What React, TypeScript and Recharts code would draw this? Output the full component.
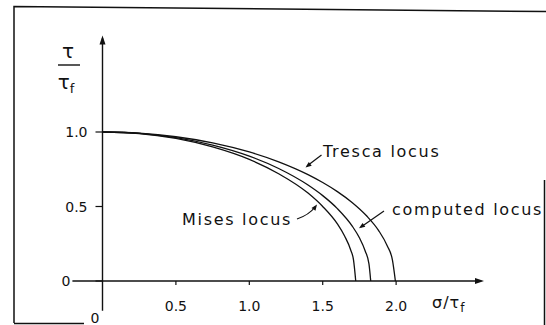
import React from 'react';
import { LineChart, Line, XAxis, YAxis, ReferenceLine, ReferenceDot } from 'recharts';

// Values (sigma / tau_f , tau / tau_f)
const misesSigma = [0, 0.25, 0.5, 0.75, 1.0, 1.2, 1.4, 1.5, 1.6, 1.65, 1.69, 1.71, 1.725];
const misesTau = [1.0, 0.99, 0.957, 0.9, 0.816, 0.72, 0.59, 0.5, 0.383, 0.3, 0.21, 0.14, 0];

const computedSigma = [0, 0.25, 0.5, 0.75, 1.0, 1.2, 1.4, 1.5, 1.6, 1.7, 1.75, 1.79, 1.815, 1.827];
const computedTau = [1.0, 0.991, 0.962, 0.912, 0.838, 0.755, 0.644, 0.573, 0.486, 0.37, 0.29, 0.2, 0.115, 0];

const trescaSigma = [0, 0.25, 0.5, 0.75, 1.0, 1.2, 1.4, 1.5, 1.6, 1.7, 1.8, 1.88, 1.94, 1.975, 1.995];
const trescaTau = [1.0, 0.992, 0.968, 0.927, 0.866, 0.8, 0.714, 0.661, 0.6, 0.527, 0.436, 0.34, 0.235, 0.14, 0];

const xTicks = [0.5, 1.0, 1.5, 2.0];
const yTicks = [0, 0.5, 1.0];

const toRows = (xs: number[], ys: number[]) => xs.map((s, i) => ({ s, t: ys[i] }));
const misesData = toRows(misesSigma, misesTau);
const computedData = toRows(computedSigma, computedTau);
const trescaData = toRows(trescaSigma, trescaTau);

const FONT = '"DejaVu Sans", sans-serif';
const INK = '#111';

const YTick = (props: any) => {
  const { x, y, payload } = props;
  const v = payload.value as number;
  return (
    <text x={v === 0 ? x - 17 : x} y={y} dy={5} textAnchor="end" fontSize={14} fontFamily={FONT} fill={INK}>
      {v === 0 ? '0' : v.toFixed(1)}
    </text>
  );
};

const arrowRight = (p: any) => (
  <path d={`M${p.cx + 2},${p.cy} l-9,-3 l0,6 z`} fill={INK} />
);
const arrowUp = (p: any) => (
  <path d={`M${p.cx},${p.cy - 2} l-3,9 l6,0 z`} fill={INK} />
);

const Head = ({ x, y, fx, fy }: { x: number; y: number; fx: number; fy: number }) => {
  const dx = x - fx, dy = y - fy;
  const L = Math.hypot(dx, dy);
  const ux = dx / L, uy = dy / L;
  const len = 6, w = 2.4;
  const bx = x - ux * len, by = y - uy * len;
  return (
    <path d={`M${x},${y} L${bx - uy * w},${by + ux * w} L${bx + uy * w},${by - ux * w} Z`} fill={INK} />
  );
};

export default function App() {
  return (
    <div style={{ position: 'absolute', left: 0, top: 0, width: 546, height: 325, background: '#fff' }}>
      <LineChart width={546} height={325} margin={{ top: 42.6, right: 61.8, bottom: 14, left: 42.5 }}>
        <XAxis
          type="number"
          dataKey="s"
          domain={[0, 2.6]}
          ticks={xTicks}
          tickFormatter={(v: number) => v.toFixed(1)}
          axisLine={false}
          tickSize={4}
          tickMargin={16}
          height={30}
          tick={{ fontSize: 14, fontFamily: FONT, fill: INK }}
          tickLine={{ stroke: INK, strokeWidth: 1.2 }}
          allowDataOverflow
        />
        <YAxis
          type="number"
          dataKey="t"
          domain={[0, 1.6]}
          ticks={yTicks}
          axisLine={false}
          tickSize={7}
          tickMargin={8}
          width={60}
          tick={<YTick />}
          tickLine={{ stroke: INK, strokeWidth: 1.2 }}
          allowDataOverflow
        />
        <ReferenceLine segment={[{ x: -0.205, y: 0 }, { x: 2.58, y: 0 }]} stroke={INK} strokeWidth={1.4} ifOverflow="visible" />
        <ReferenceLine segment={[{ x: 0, y: -0.2 }, { x: 0, y: 1.63 }]} stroke={INK} strokeWidth={1.4} ifOverflow="visible" />
        <ReferenceDot x={2.585} y={0} r={0} ifOverflow="visible" shape={arrowRight} />
        <ReferenceDot x={0} y={1.635} r={0} ifOverflow="visible" shape={arrowUp} />
        <Line data={misesData} dataKey="t" type="monotone" stroke={INK} strokeWidth={1.3} dot={false} isAnimationActive={false} />
        <Line data={computedData} dataKey="t" type="monotone" stroke={INK} strokeWidth={1.3} dot={false} isAnimationActive={false} />
        <Line data={trescaData} dataKey="t" type="monotone" stroke={INK} strokeWidth={1.3} dot={false} isAnimationActive={false} />
      </LineChart>
      <svg width={546} height={325} style={{ position: 'absolute', left: 0, top: 0, pointerEvents: 'none' }}>
        {/* frame */}
        <path d="M14,323 L14,6.5 L546,11.5" fill="none" stroke={INK} strokeWidth={1.5} />
        <path d="M14,323.5 L84,323.5" fill="none" stroke={INK} strokeWidth={1.5} />
        <path d="M544.5,180 L544.5,325" fill="none" stroke={INK} strokeWidth={1.5} />
        {/* y title */}
        <text x={68} y={58} textAnchor="middle" fontSize={20} fontFamily={FONT} fill={INK}>τ</text>
        <line x1={58} y1={65} x2={80} y2={65} stroke={INK} strokeWidth={1.4} />
        <text x={66} y={89} textAnchor="middle" fontSize={20} fontFamily={FONT} fill={INK}>
          τ<tspan fontSize={13} dy={4}>f</tspan>
        </text>
        {/* x title */}
        <text x={432} y={308} fontSize={16} fontFamily={FONT} fill={INK} letterSpacing={1}>
          σ/τ<tspan fontSize={12} dy={4}>f</tspan>
        </text>
        {/* origin */}
        <text x={95} y={323} textAnchor="middle" fontSize={14} fontFamily={FONT} fill={INK}>0</text>
        {/* annotations */}
        <text x={323} y={157} fontSize={16} fontFamily={FONT} fill={INK} letterSpacing={1.7}>Tresca locus</text>
        <text x={392} y={215} fontSize={16} fontFamily={FONT} fill={INK} letterSpacing={1.7}>computed locus</text>
        <text x={182} y={225} fontSize={16} fontFamily={FONT} fill={INK} letterSpacing={1.7}>Mises locus</text>
        <path d="M321.5,155 L307,166" fill="none" stroke={INK} strokeWidth={1.2} />
        <Head x={305.5} y={167.5} fx={321.5} fy={155} />
        <path d="M384,211 L361,227" fill="none" stroke={INK} strokeWidth={1.2} />
        <Head x={359} y={228.3} fx={384} fy={211} />
        <path d="M297,219 Q309,215 315.5,206.5" fill="none" stroke={INK} strokeWidth={1.2} />
        <Head x={317} y={204.5} fx={313} fy={210} />
      </svg>
    </div>
  );
}
